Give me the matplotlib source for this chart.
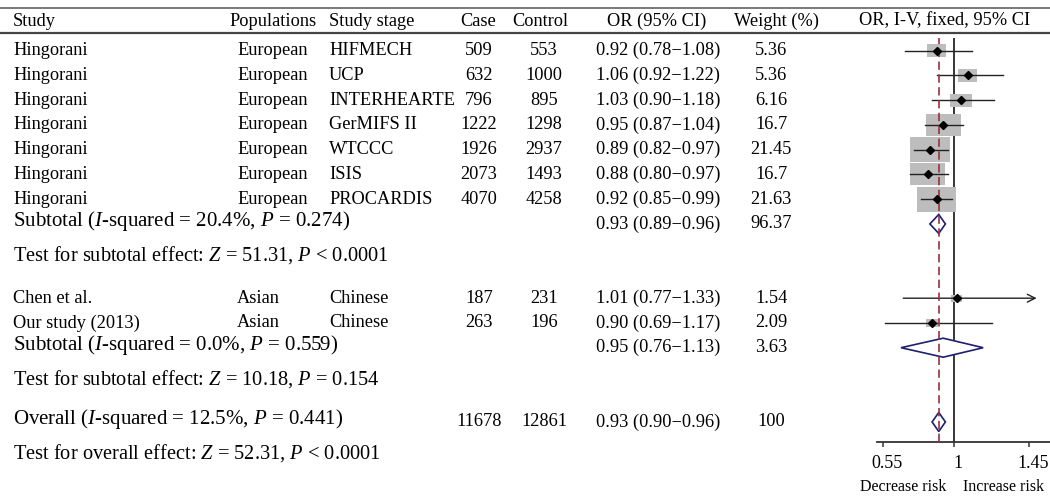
import numpy as np
import matplotlib
matplotlib.use("Agg")
import matplotlib.pyplot as plt
import matplotlib.transforms as mtransforms
from matplotlib.patches import Rectangle, Polygon

plt.rcParams["font.family"] = ["Liberation Serif", "DejaVu Serif"]
plt.rcParams["mathtext.fontset"] = "custom"
plt.rcParams["mathtext.rm"] = "Liberation Serif"
plt.rcParams["mathtext.it"] = "Liberation Serif:italic"

# ---- data ----
studies = ["Hingorani"] * 7 + ["Chen et al.", "Our study (2013)"]
populations = ["European"] * 7 + ["Asian", "Asian"]
stages = ["HIFMECH", "UCP", "INTERHEARTE", "GerMIFS II", "WTCCC", "ISIS",
          "PROCARDIS", "Chinese", "Chinese"]
cases = [509, 632, 796, 1222, 1926, 2073, 4070, 187, 263]
controls = [553, 1000, 895, 1298, 2937, 1493, 4258, 231, 196]
odds = [0.92, 1.06, 1.03, 0.95, 0.89, 0.88, 0.92, 1.01, 0.90]
ci_lo = [0.78, 0.92, 0.90, 0.87, 0.82, 0.80, 0.85, 0.77, 0.69]
ci_hi = [1.08, 1.22, 1.18, 1.04, 0.97, 0.97, 0.99, 1.33, 1.17]
weights = [5.36, 5.36, 6.16, 16.7, 21.45, 16.7, 21.63, 1.54, 2.09]
study_rows = [0, 1, 2, 3, 4, 5, 6, 10, 11]

summary_labels = [r"Subtotal ($I$-squared = 20.4%, $P$ = 0.274)",
                  r"Subtotal ($I$-squared = 0.0%, $P$ = 0.559)",
                  r"Overall ($I$-squared = 12.5%, $P$ = 0.441)"]
summary_or = [0.93, 0.95, 0.93]
summary_lo = [0.89, 0.76, 0.90]
summary_hi = [0.96, 1.13, 0.96]
summary_weight = ["96.37", "3.63", "100"]
summary_case = ["", "", "11678"]
summary_control = ["", "", "12861"]
summary_rows = [7, 12, 15]

test_labels = [r"Test for subtotal effect: $Z$ = 51.31, $P$ < 0.0001",
               r"Test for subtotal effect: $Z$ = 10.18, $P$ = 0.154",
               r"Test for overall effect: $Z$ = 52.31, $P$ < 0.0001"]
test_rows = [8.25, 13.25, 16.25]

headers = ["Study", "Populations", "Study stage", "Case", "Control",
           "OR (95% CI)", "Weight (%)", "OR, I-V, fixed, 95% CI"]
tick_pos = [0.68, 1.0, 1.336]
tick_labels = ["0.55", "1", "1.45"]
arrow_cap = 1.371   # where an off-scale CI is cut and drawn as an arrow

# ---- layout (pixels) ----
W, H = 1050, 497
row0, row_h = 50.7, 24.75


def to_row(p):
    return (p - row0) / row_h


fig = plt.figure(figsize=(W / 100, H / 100), dpi=100)
ax = fig.add_axes([0, 0, 1, 1])
ax.set_xlim(0, W)
ax.set_ylim(to_row(H), to_row(0))
ax.axis("off")

fs_row, fs_big, fs_test = 13.2, 15, 14.7

# header and rules
ax.axhline(to_row(8.3), color="#555555", lw=1.1)
ax.axhline(to_row(32.7), color="#444444", lw=1.6)
hy = to_row(21)
hx = [(13, "left"), (229, "left"), (329, "left"), (478, "center"),
      (540, "center"), (657, "center"), (776, "center"), (945, "center")]
for (x, ha), h in zip(hx, headers):
    ax.text(x, hy, h, fontsize=fs_row, ha=ha, va="center")

for i, r in enumerate(study_rows):
    ax.text(13, r, studies[i], fontsize=fs_row, va="center")
    ax.text(237, r, populations[i], fontsize=fs_row, va="center")
    ax.text(329, r, stages[i], fontsize=fs_row, va="center")
    ax.text(479, r, str(cases[i]), fontsize=fs_row, ha="center", va="center")
    ax.text(544, r, str(controls[i]), fontsize=fs_row, ha="center", va="center")
    ax.text(596, r, f"{odds[i]:.2f} ({ci_lo[i]:.2f}\u2212{ci_hi[i]:.2f})",
            fontsize=fs_row, va="center")
    ax.text(771, r, f"{weights[i]:g}", fontsize=fs_row, ha="center", va="center")

for i, r in enumerate(summary_rows):
    ax.text(13, r - 0.12, summary_labels[i], fontsize=fs_big, va="center")
    ax.text(479, r, summary_case[i], fontsize=fs_row, ha="center", va="center")
    ax.text(544, r, summary_control[i], fontsize=fs_row, ha="center", va="center")
    ax.text(596, r, f"{summary_or[i]:.2f} ({summary_lo[i]:.2f}\u2212{summary_hi[i]:.2f})",
            fontsize=fs_row, va="center")
    ax.text(771, r, summary_weight[i], fontsize=fs_row, ha="center", va="center")

for lab, r in zip(test_labels, test_rows):
    ax.text(13, r, lab, fontsize=fs_test, va="center")

ax.text(903, to_row(487), "Decrease risk", fontsize=11.5, ha="center", va="center")
ax.text(1004, to_row(487), "Increase risk", fontsize=11.5, ha="center", va="center")

# ---- forest panel ----
px_per_or = 222.0
or_at = 954.3
left_px, right_px, top_px, bot_px = 877, 1050, 38.3, 441.7
fx = fig.add_axes([left_px / W, 1 - bot_px / H, (right_px - left_px) / W,
                   (bot_px - top_px) / H])
fx.set_xlim(1 + (left_px - or_at) / px_per_or, 1 + (right_px - or_at) / px_per_or)
fx.set_ylim(to_row(bot_px), to_row(top_px))
fx.patch.set_alpha(0)
for s in ["top", "left", "right"]:
    fx.spines[s].set_visible(False)
fx.spines["bottom"].set_color("#333333")
fx.spines["bottom"].set_linewidth(1.3)
fx.set_yticks([])
fx.set_xticks(tick_pos)
fx.set_xticklabels(tick_labels, fontsize=13)
fx.tick_params(axis="x", length=3.5, width=1.1, color="#333333", pad=6)
shift = mtransforms.ScaledTranslation(4 / 100, 0, fig.dpi_scale_trans)
for lbl in fx.get_xticklabels():
    lbl.set_transform(lbl.get_transform() + shift)

fx.axvline(1.0, color="black", lw=1.1, zorder=1)
fx.axvline(summary_or[2], color="#9b3040", lw=1.2, ls=(0, (5, 2.7)), zorder=4)

box_k = 8.5
for i, r in enumerate(study_rows):
    wpx = box_k * np.sqrt(weights[i])
    hpx = wpx / 1.58
    bw, bh = wpx / px_per_or, hpx / row_h
    fx.add_patch(Rectangle((odds[i] - bw / 2, r - bh / 2), bw, bh,
                           facecolor="#bdbdbd", edgecolor="none", zorder=2))
    if ci_hi[i] > 1.3:
        fx.annotate("", xy=(arrow_cap, r), xytext=(ci_lo[i], r),
                    arrowprops=dict(arrowstyle="->", color="#222222", lw=1.0,
                                    mutation_scale=14, shrinkA=0, shrinkB=0),
                    zorder=3, annotation_clip=False)
    else:
        fx.plot([ci_lo[i], ci_hi[i]], [r, r], color="#222222", lw=1.0, zorder=3)
    fx.plot(odds[i], r, marker="D", color="black", markersize=4, zorder=5)

dh = 9.5 / row_h
for i, r in enumerate(summary_rows):
    pts = [(summary_lo[i], r), (summary_or[i], r - dh), (summary_hi[i], r),
           (summary_or[i], r + dh)]
    fx.add_patch(Polygon(pts, closed=True, facecolor="white",
                         edgecolor="#1f1f6e", lw=1.2, zorder=3))

fig.savefig("out.png", dpi=100)
